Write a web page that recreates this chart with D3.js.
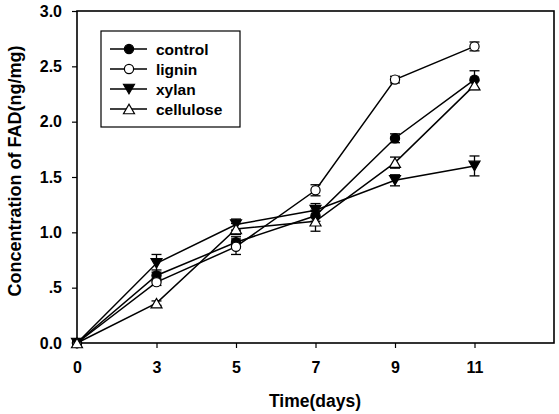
<!DOCTYPE html>
<html><head><meta charset="utf-8">
<script src="https://cdn.jsdelivr.net/npm/d3@7"></script>
<style>body{margin:0;background:#fff}svg{display:block}text{font-family:Arial,"Liberation Sans",sans-serif;font-weight:bold;fill:#000}</style>
</head><body><svg id="c" width="559" height="414"></svg>
<script>
const days = ["0","3","5","7","9","11"];
const yTicks = [0,0.5,1.0,1.5,2.0,2.5,3.0];
const yTickLabels = ["0.0",".5","1.0","1.5","2.0","2.5","3.0"];
const seriesNames = ["control","lignin","xylan","cellulose"];
const controlVals = [0,0.61,0.91,1.15,1.85,2.38];
const controlErr  = [0,0.05,0.05,0.05,0.04,0.08];
const ligninVals  = [0,0.55,0.87,1.38,2.38,2.68];
const ligninErr   = [0,0.03,0.07,0.05,0.03,0.04];
const xylanVals   = [0,0.72,1.07,1.20,1.47,1.60];
const xylanErr    = [0,0.08,0.05,0.06,0.05,0.09];
const celluloseVals = [0,0.36,1.03,1.10,1.63,2.33];
const celluloseErr  = [0,0.02,0.05,0.09,0.05,0.04];

const series = [
  {name:seriesNames[0], vals:controlVals, err:controlErr, sym:"circle", fill:"#000"},
  {name:seriesNames[1], vals:ligninVals, err:ligninErr, sym:"circle", fill:"#fff"},
  {name:seriesNames[2], vals:xylanVals, err:xylanErr, sym:"down", fill:"#000"},
  {name:seriesNames[3], vals:celluloseVals, err:celluloseErr, sym:"up", fill:"#fff"}
];

const svg = d3.select("#c");
const L=77, R=554, T=11, B=343;
const x = d3.scaleLinear().domain([0,6]).range([L,R]);
const y = d3.scaleLinear().domain([0,3]).range([B,T]);

function marker(g, s, cx, cy){
  if(s.sym==="down"||s.sym==="up"){
    const h=9.5, w=11, dir = s.sym==="down"?1:-1;
    const pts=[[cx-w/2,cy-dir*h/2],[cx+w/2,cy-dir*h/2],[cx,cy+dir*h/2]];
    g.append("path").attr("d","M"+pts.map(p=>p.join(",")).join("L")+"Z")
      .attr("fill",s.fill).attr("stroke","#000").attr("stroke-width",1.2);
  } else {
    g.append("circle").attr("cx",cx).attr("cy",cy).attr("r",4.6)
      .attr("fill",s.fill).attr("stroke","#000").attr("stroke-width",1.2);
  }
}

// axes
const xAxis = d3.axisBottom(x).tickValues(d3.range(days.length)).tickFormat(i=>days[i]).tickSize(5).tickSizeOuter(0);
const gx = svg.append("g").attr("transform",`translate(0,${B})`).call(xAxis);
gx.select(".domain").remove();
gx.selectAll("line").attr("stroke","#000").attr("stroke-width",1.2);
gx.selectAll("text").attr("font-size",16).attr("y",30).attr("dy",0).style("font-weight","bold");

const yAxis = d3.axisLeft(y).tickValues(yTicks).tickFormat((d,i)=>yTickLabels[i]).tickSize(5).tickSizeOuter(0);
const gy = svg.append("g").attr("transform",`translate(${L},0)`).call(yAxis);
gy.select(".domain").remove();
gy.selectAll("line").attr("stroke","#000").attr("stroke-width",1.2);
gy.selectAll("text").attr("font-size",16).attr("x",-15).style("font-weight","bold");

svg.append("rect").attr("x",L).attr("y",T).attr("width",R-L).attr("height",B-T)
  .attr("fill","none").attr("stroke","#000").attr("stroke-width",1.6);

// series lines
const line = d3.line().x((d,i)=>x(i)).y(d=>y(d));
series.forEach(s=>{
  svg.append("path").attr("d",line(s.vals)).attr("fill","none").attr("stroke","#000").attr("stroke-width",1.5);
});
// error bars
series.forEach(s=>{
  const g = svg.append("g").attr("stroke","#000").attr("stroke-width",1.3);
  s.vals.forEach((v,i)=>{
    if(!s.err[i]) return;
    const cx=x(i), y1=y(v+s.err[i]), y2=y(v-s.err[i]);
    g.append("line").attr("x1",cx).attr("x2",cx).attr("y1",y1).attr("y2",y2);
    g.append("line").attr("x1",cx-5).attr("x2",cx+5).attr("y1",y1).attr("y2",y1);
    g.append("line").attr("x1",cx-5).attr("x2",cx+5).attr("y1",y2).attr("y2",y2);
  });
});
// markers
series.forEach(s=>{
  const g = svg.append("g");
  s.vals.forEach((v,i)=>marker(g,s,x(i),y(v)));
});

// legend
const lg = svg.append("g");
lg.append("rect").attr("x",101).attr("y",31).attr("width",139).attr("height",96)
  .attr("fill","#fff").attr("stroke","#000").attr("stroke-width",1.2);
series.forEach((s,i)=>{
  const yy = 49 + i*20;
  lg.append("line").attr("x1",110).attr("x2",147).attr("y1",yy).attr("y2",yy).attr("stroke","#000").attr("stroke-width",1.5);
  marker(lg,s,129,yy);
  lg.append("text").attr("x",156).attr("y",yy).attr("dy","0.36em").attr("font-size",15.5).text(s.name);
});

// titles
svg.append("text").attr("x",315).attr("y",407).attr("text-anchor","middle").attr("font-size",17.5).text("Time(days)");
svg.append("text").attr("transform",`translate(21,171) rotate(-90)`).attr("text-anchor","middle").attr("font-size",18).text("Concentration of FAD(ng/mg)");
</script></body></html>
